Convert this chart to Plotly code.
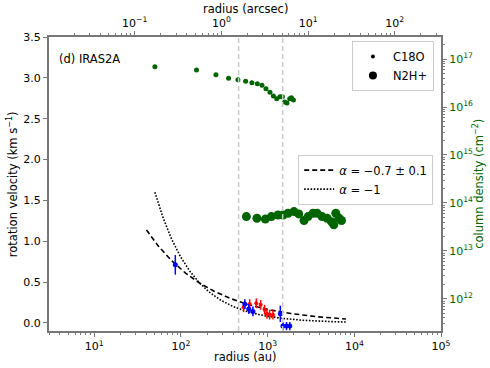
import numpy as np
import plotly.graph_objects as go

# distance to source (pc) used for au -> arcsec
dist_pc = 293

# C18O column density (green small dots)
c18o_r = [50, 151, 253, 354, 454, 557, 658, 760, 859, 956, 1063, 1164, 1271, 1387, 1479, 1573, 1671, 1795, 1879, 1982]
c18o_N = [6.9e16, 5.9e16, 4.7e16, 3.96e16, 3.7e16, 3.43e16, 3.2e16, 3.06e16, 2.83e16, 2.41e16, 2.03e16, 1.70e16,
          1.49e16, 1.64e16, 1.64e16, 1.27e16, 1.21e16, 1.49e16, 1.56e16, 1.40e16]

# N2H+ column density (green big dots)
n2h_r = [568, 752, 940, 1104, 1315, 1503, 1717, 2014, 2281, 2630, 2924, 3342, 3715, 4245, 4853, 5448, 5796, 6112, 6670, 7110]
n2h_N = [5.2e13, 4.8e13, 4.6e13, 5.2e13, 5.6e13, 5.6e13, 6.1e13, 6.6e13, 5.9e13, 4.3e13, 5.2e13, 6.1e13, 6.1e13,
         5.2e13, 4.8e13, 4.07e13, 3.5e13, 6.1e13, 4.8e13, 4.3e13]

# rotation velocity points
blue_r = [86, 545, 605, 676, 1400, 1500, 1650, 1800]
blue_v = [0.71, 0.23, 0.17, 0.14, 0.11, -0.04, -0.04, -0.04]
blue_err = [0.12, 0.06, 0.06, 0.06, 0.10, 0.05, 0.05, 0.05]

red_r = [528, 620, 740, 830, 923, 982, 1054, 1151]
red_v = [0.19, 0.23, 0.24, 0.22, 0.16, 0.11, 0.10, 0.10]
red_err = [0.06, 0.06, 0.06, 0.06, 0.06, 0.06, 0.06, 0.06]

# fitted power laws
dash_r0, dash_r1, dash_k, dash_a = 40, 8000, 10.4, -0.6
dot_r0, dot_r1, dot_k, dot_a = 50, 8000, 80.0, -1.0

# vertical markers (au)
vlines = [462, 1490]

green = '#006400'
font = 'DejaVu Sans'

fig = go.Figure()

r_dash = np.logspace(np.log10(dash_r0), np.log10(dash_r1), 200)
r_dot = np.logspace(np.log10(dot_r0), np.log10(dot_r1), 200)
fig.add_trace(go.Scatter(x=r_dash, y=dash_k * r_dash ** dash_a, mode='lines',
                         line=dict(color='black', width=1.6, dash='5px,3px'),
                         name='<i>α</i> = −0.7 ± 0.1', legend='legend2'))
fig.add_trace(go.Scatter(x=r_dot, y=dot_k * r_dot ** dot_a, mode='lines',
                         line=dict(color='black', width=1.6, dash='1.6px,1.6px'),
                         name='<i>α</i> = −1', legend='legend2'))

fig.add_trace(go.Scatter(x=red_r, y=red_v, mode='markers',
                         marker=dict(color='red', size=4),
                         error_y=dict(type='data', array=red_err, color='red', thickness=1.5, width=0),
                         error_x=dict(type='percent', value=4, color='red', thickness=1.5, width=0),
                         showlegend=False))
fig.add_trace(go.Scatter(x=blue_r, y=blue_v, mode='markers',
                         marker=dict(color='blue', size=5),
                         error_y=dict(type='data', array=blue_err, color='blue', thickness=1.5, width=0),
                         error_x=dict(type='percent', value=4, color='blue', thickness=1.5, width=0),
                         showlegend=False))

# column density on right axis
fig.add_trace(go.Scatter(x=c18o_r, y=c18o_N, mode='markers', yaxis='y2',
                         marker=dict(color=green, size=5), showlegend=False))
fig.add_trace(go.Scatter(x=n2h_r, y=n2h_N, mode='markers', yaxis='y2',
                         marker=dict(color=green, size=9), showlegend=False))

# legend proxies
fig.add_trace(go.Scatter(x=[None], y=[None], mode='markers', marker=dict(color='black', size=4),
                         name='C18O', legend='legend'))
fig.add_trace(go.Scatter(x=[None], y=[None], mode='markers', marker=dict(color='black', size=8),
                         name='N2H+', legend='legend'))

# dummy trace so the top axis shows
fig.add_trace(go.Scatter(x=[1], y=[None], xaxis='x2', showlegend=False, hoverinfo='skip'))

for xv in vlines:
    fig.add_shape(type='line', x0=xv, x1=xv, y0=0, y1=1, xref='x', yref='paper',
                  line=dict(color='#c8c8c8', width=1.5, dash='5px,3px'))


def minor_vals(lo, hi):
    return [m * 10.0 ** e for e in range(lo, hi) for m in range(2, 10)]


x_ticks = [10, 100, 1000, 10000, 100000]
x_text = ['10<sup>%d</sup>' % i for i in range(1, 6)]
top_ticks = [0.1, 1, 10, 100]
top_text = ['10<sup>−1</sup>', '10<sup>0</sup>', '10<sup>1</sup>', '10<sup>2</sup>']
r_ticks = [1e12, 1e13, 1e14, 1e15, 1e16, 1e17]
r_text = ['10<sup>%d</sup>' % i for i in range(12, 18)]

axcol = '#777777'
base = dict(ticks='outside', ticklen=4, tickcolor=axcol, showgrid=False, zeroline=False,
            showline=True, linecolor=axcol, linewidth=2, automargin=False)

fig.update_layout(
    width=490, height=368,
    margin=dict(l=49, r=49, t=37, b=37),
    paper_bgcolor='white', plot_bgcolor='white',
    font=dict(family=font, size=11, color='black'),
    xaxis=dict(type='log', range=[np.log10(3), 5], tickvals=x_ticks, ticktext=x_text,
               minor=dict(tickvals=minor_vals(0, 5), ticks='outside', ticklen=2, tickcolor=axcol),
               **base),
    xaxis2=dict(type='log', overlaying='x', side='top', anchor='y',
                range=[np.log10(3 / dist_pc), np.log10(1e5 / dist_pc)],
                tickvals=top_ticks, ticktext=top_text,
                minor=dict(tickvals=minor_vals(-2, 3), ticks='outside', ticklen=2, tickcolor=axcol),
                **base),
    yaxis=dict(range=[-0.1, 3.5], dtick=0.5, tickformat='.1f', **base),
    yaxis2=dict(type='log', overlaying='y', side='right', anchor='x',
                range=[11.33, 17.46], tickvals=r_ticks, ticktext=r_text,
                tickfont=dict(color=green),
                minor=dict(tickvals=minor_vals(11, 18), ticks='outside', ticklen=2, tickcolor=axcol),
                **base),
    legend=dict(x=0.982, y=0.986, xanchor='right', yanchor='top', bgcolor='white',
                bordercolor='#cccccc', borderwidth=1, font=dict(size=11.5), tracegroupgap=0),
    legend2=dict(x=0.98, y=0.6, xanchor='right', yanchor='top', bgcolor='white',
                 bordercolor='#cccccc', borderwidth=1, font=dict(size=11.5)),
    annotations=[
        dict(text='(d) IRAS2A', x=0.02, y=0.925, xref='paper', yref='paper',
             xanchor='left', yanchor='middle', showarrow=False, font=dict(size=11.5)),
        dict(text='radius (au)', x=0.5, y=-0.09, xref='paper', yref='paper',
             xanchor='center', yanchor='middle', showarrow=False, font=dict(size=11.5)),
        dict(text='radius (arcsec)', x=0.5, y=1.095, xref='paper', yref='paper',
             xanchor='center', yanchor='middle', showarrow=False, font=dict(size=11.5)),
        dict(text='rotation velocity (km s<sup>−1</sup>)', x=-0.094, y=0.5, xref='paper', yref='paper',
             xanchor='center', yanchor='middle', textangle=-90, showarrow=False, font=dict(size=11.5)),
        dict(text='column density (cm<sup>−2</sup>)', x=1.094, y=0.5, xref='paper', yref='paper',
             xanchor='center', yanchor='middle', textangle=-90, showarrow=False,
             font=dict(size=11.5, color=green)),
    ],
)

# drop the default page margin so the figure sits at the window corner
fig.write_html('out.html', config={'displayModeBar': False},
               post_script="document.body.style.margin='0';")
